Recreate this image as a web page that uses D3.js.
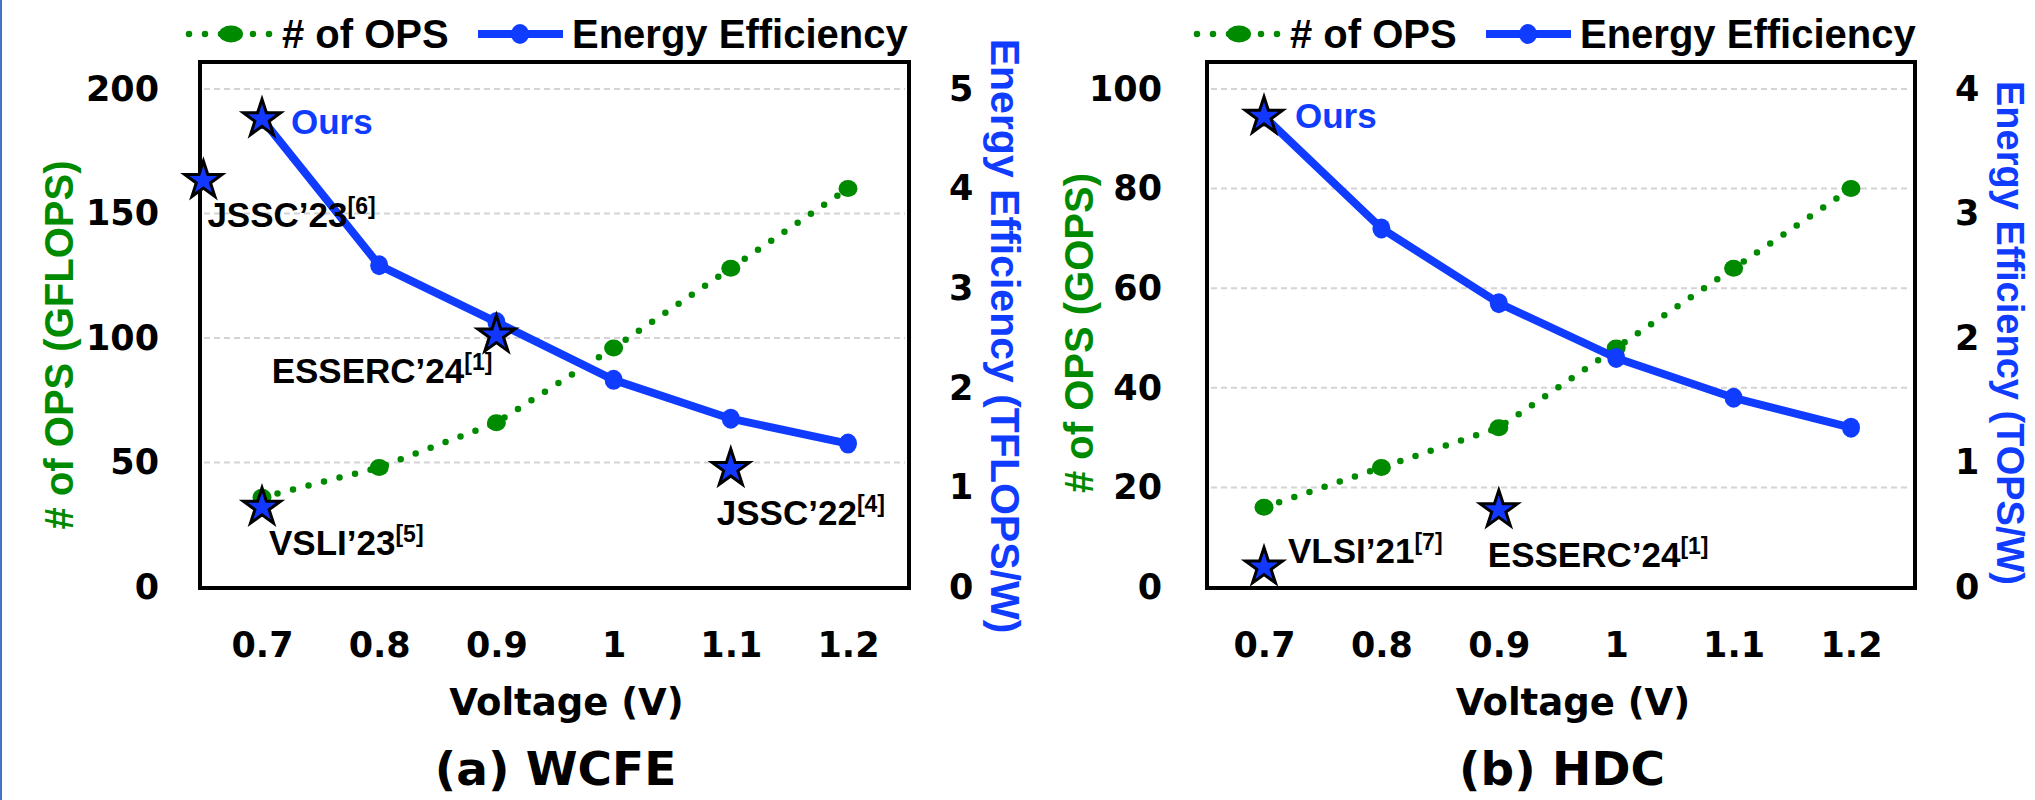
<!DOCTYPE html>
<html>
<head>
<meta charset="utf-8">
<script src="https://cdn.jsdelivr.net/npm/d3@7"></script>
<style>
  body { margin: 0; background: #fff; }
  svg { display: block; }
  text { font-family: "Liberation Sans", Arial, sans-serif; font-weight: bold; }
  .wide { font-family: "DejaVu Sans", Verdana, sans-serif; }
</style>
</head>
<body>
<div id="chart"></div>
<script>
// ---- data ----
const voltage = [0.7, 0.8, 0.9, 1.0, 1.1, 1.2];

const wcfeOps = [36, 48, 66, 96, 128, 160];          // GFLOPS
const wcfeEff = [4.70, 3.23, 2.66, 2.08, 1.69, 1.44]; // TFLOPS/W
const wcfeTicksL = [0, 50, 100, 150, 200];
const wcfeTicksR = [0, 1, 2, 3, 4, 5];
const wcfeStarNames = ["Ours", "JSSC’23", "ESSERC’24", "VSLI’23", "JSSC’22"];
const wcfeStarRefs = ["", "[6]", "[1]", "[5]", "[4]"];
const wcfeStarV = [0.7, 0.65, 0.9, 0.7, 1.1];
const wcfeStarEff = [4.70, 4.08, 2.53, 0.80, 1.19];

const hdcOps = [16, 24, 32, 48, 64, 80];             // GOPS
const hdcEff = [3.78, 2.88, 2.28, 1.84, 1.52, 1.28];  // TOPS/W
const hdcTicksL = [0, 20, 40, 60, 80, 100];
const hdcTicksR = [0, 1, 2, 3, 4];
const hdcStarNames = ["Ours", "VLSI’21", "ESSERC’24"];
const hdcStarRefs = ["", "[7]", "[1]"];
const hdcStarV = [0.7, 0.7, 0.9];
const hdcStarEff = [3.78, 0.16, 0.62];

const GREEN = "#008a00";
const BLUE = "#0f3cff";

const W = 2035, H = 800;
const TOP = 62, BOTTOM = 588;

const svg = d3.select("#chart").append("svg")
  .attr("width", W)
  .attr("height", H);

// thin slide border on the left edge
svg.append("line")
  .attr("x1", 1).attr("x2", 1).attr("y1", 0).attr("y2", H)
  .attr("stroke", "#4472c4").attr("stroke-width", 2);

const panels = [
  {
    ops: wcfeOps, eff: wcfeEff, ticksL: wcfeTicksL, ticksR: wcfeTicksR,
    names: wcfeStarNames, refs: wcfeStarRefs, starV: wcfeStarV, starEff: wcfeStarEff,
    boxL: 200, boxR: 909, x07: 262, x12: 848, padL: 41,
    opsTitle: "# of OPS (GFLOPS)", effTitle: "Energy Efficiency (TFLOPS/W)", caption: "(a) WCFE",
    leftTitle: [73, 345, 40], rightTitle: [991, 336, 41], legendX: 186,
    labelPos: [[29, 15, "start"], [4, 46, "start"], [-4, 48, "end"], [7, 48, "start"], [-14, 57, "start"]]
  },
  {
    ops: hdcOps, eff: hdcEff, ticksL: hdcTicksL, ticksR: hdcTicksR,
    names: hdcStarNames, refs: hdcStarRefs, starV: hdcStarV, starEff: hdcStarEff,
    boxL: 1207, boxR: 1915, x07: 1264, x12: 1851, padL: 45,
    opsTitle: "# of OPS (GOPS)", effTitle: "Energy Efficiency (TOPS/W)", caption: "(b) HDC",
    leftTitle: [1093, 333, 40], rightTitle: [1997, 333, 38], legendX: 1194,
    labelPos: [[31, 12, "start"], [24, -4, "start"], [-11, 57, "start"]]
  }
];

const star = d3.symbol().type(d3.symbolStar).size(430);

panels.forEach(function(p) {
  const x = d3.scaleLinear().domain([0.7, 1.2]).range([p.x07, p.x12]);
  const yL = d3.scaleLinear().domain([0, d3.max(p.ticksL)]).range([587, 89]);
  const yR = d3.scaleLinear().domain([0, d3.max(p.ticksR)]).range([587, 89]);
  const g = svg.append("g");

  // gridlines
  g.selectAll(".grid")
    .data(p.ticksL.filter(d => d > 0))
    .enter().append("line")
    .attr("x1", p.boxL + 4).attr("x2", p.boxR - 4)
    .attr("y1", d => yL(d)).attr("y2", d => yL(d))
    .attr("stroke", "#d4d4d4").attr("stroke-width", 2)
    .attr("stroke-dasharray", "6 4");

  // frame
  g.append("rect")
    .attr("x", p.boxL).attr("y", TOP)
    .attr("width", p.boxR - p.boxL).attr("height", BOTTOM - TOP)
    .attr("fill", "none").attr("stroke", "#000").attr("stroke-width", 4);

  // axes
  const fmt = d => d3.format("")(+d.toFixed(1));
  const leftAxis = d3.axisLeft(yL).tickValues(p.ticksL).tickSize(0).tickPadding(p.padL).tickFormat(fmt);
  const rightAxis = d3.axisRight(yR).tickValues(p.ticksR).tickSize(0).tickPadding(40).tickFormat(fmt);
  const bottomAxis = d3.axisBottom(x).tickValues(voltage).tickSize(0).tickPadding(44).tickFormat(fmt);

  [[leftAxis, `translate(${p.boxL},0)`], [rightAxis, `translate(${p.boxR},0)`],
   [bottomAxis, `translate(0,${BOTTOM})`]].forEach(function(a) {
    const ag = g.append("g").attr("transform", a[1]).call(a[0]);
    ag.select(".domain").remove();
    ag.selectAll("text")
      .attr("class", "wide")
      .attr("font-size", 35)
      .attr("font-family", null)
      .attr("font-weight", "bold")
      .attr("fill", "#000");
  });

  // axis titles
  g.append("text")
    .attr("transform", `translate(${p.leftTitle[0]},${p.leftTitle[1]}) rotate(-90)`)
    .attr("text-anchor", "middle")
    .attr("font-size", p.leftTitle[2])
    .attr("fill", GREEN)
    .text(p.opsTitle);

  g.append("text")
    .attr("transform", `translate(${p.rightTitle[0]},${p.rightTitle[1]}) rotate(90)`)
    .attr("text-anchor", "middle")
    .attr("font-size", p.rightTitle[2])
    .attr("fill", BLUE)
    .text(p.effTitle);

  const cx = (p.boxL + p.boxR) / 2;
  g.append("text")
    .attr("class", "wide")
    .attr("x", cx + 12).attr("y", 715)
    .attr("text-anchor", "middle").attr("font-size", 37)
    .text("Voltage (V)");
  g.append("text")
    .attr("class", "wide")
    .attr("x", cx + 1).attr("y", 785)
    .attr("text-anchor", "middle").attr("font-size", 47)
    .text(p.caption);

  // # of OPS series (dotted green)
  const opsLine = d3.line().x((d, i) => x(voltage[i])).y(d => yL(d));
  g.append("path")
    .datum(p.ops)
    .attr("d", opsLine)
    .attr("fill", "none").attr("stroke", GREEN)
    .attr("stroke-width", 6.5).attr("stroke-linecap", "round")
    .attr("stroke-dasharray", "0 16");
  g.selectAll(".opsDot")
    .data(p.ops)
    .enter().append("ellipse")
    .attr("cx", (d, i) => x(voltage[i])).attr("cy", d => yL(d))
    .attr("rx", 9.5).attr("ry", 8.5)
    .attr("fill", GREEN);

  // energy efficiency series (solid blue)
  const effLine = d3.line().x((d, i) => x(voltage[i])).y(d => yR(d));
  g.append("path")
    .datum(p.eff)
    .attr("d", effLine)
    .attr("fill", "none").attr("stroke", BLUE)
    .attr("stroke-width", 8).attr("stroke-linejoin", "round");
  g.selectAll(".effDot")
    .data(p.eff)
    .enter().append("ellipse")
    .attr("cx", (d, i) => x(voltage[i])).attr("cy", d => yR(d))
    .attr("rx", 9).attr("ry", 10)
    .attr("fill", BLUE);

  // comparison stars + labels
  p.names.forEach(function(name, i) {
    const sx = x(p.starV[i]), sy = yR(p.starEff[i]);
    g.append("path")
      .attr("d", star)
      .attr("transform", `translate(${sx},${sy})`)
      .attr("fill", "#1238ff").attr("stroke", "#000").attr("stroke-width", 3)
      .attr("stroke-linejoin", "miter");
    const lp = p.labelPos[i];
    const t = g.append("text")
      .attr("x", sx + lp[0]).attr("y", sy + lp[1])
      .attr("text-anchor", lp[2])
      .attr("font-size", 35)
      .attr("fill", name === "Ours" ? BLUE : "#000");
    t.append("tspan").text(name);
    if (p.refs[i]) {
      t.append("tspan").attr("font-size", 23).attr("dy", -13).text(p.refs[i]);
    }
  });

  // legend
  const lx = p.legendX, ly = 34;
  g.append("line")
    .attr("x1", lx + 3).attr("x2", lx + 87).attr("y1", ly).attr("y2", ly)
    .attr("stroke", GREEN).attr("stroke-width", 6.5)
    .attr("stroke-linecap", "round").attr("stroke-dasharray", "0 16");
  g.append("ellipse")
    .attr("cx", lx + 45).attr("cy", ly).attr("rx", 12).attr("ry", 8.5)
    .attr("fill", GREEN);
  g.append("text")
    .attr("x", lx + 96).attr("y", 48).attr("font-size", 40)
    .text("# of OPS");
  g.append("line")
    .attr("x1", lx + 292).attr("x2", lx + 377).attr("y1", ly).attr("y2", ly)
    .attr("stroke", BLUE).attr("stroke-width", 8);
  g.append("ellipse")
    .attr("cx", lx + 334).attr("cy", ly).attr("rx", 9).attr("ry", 10)
    .attr("fill", BLUE);
  g.append("text")
    .attr("x", lx + 386).attr("y", 48).attr("font-size", 40)
    .text("Energy Efficiency");
});
</script>
</body>
</html>
